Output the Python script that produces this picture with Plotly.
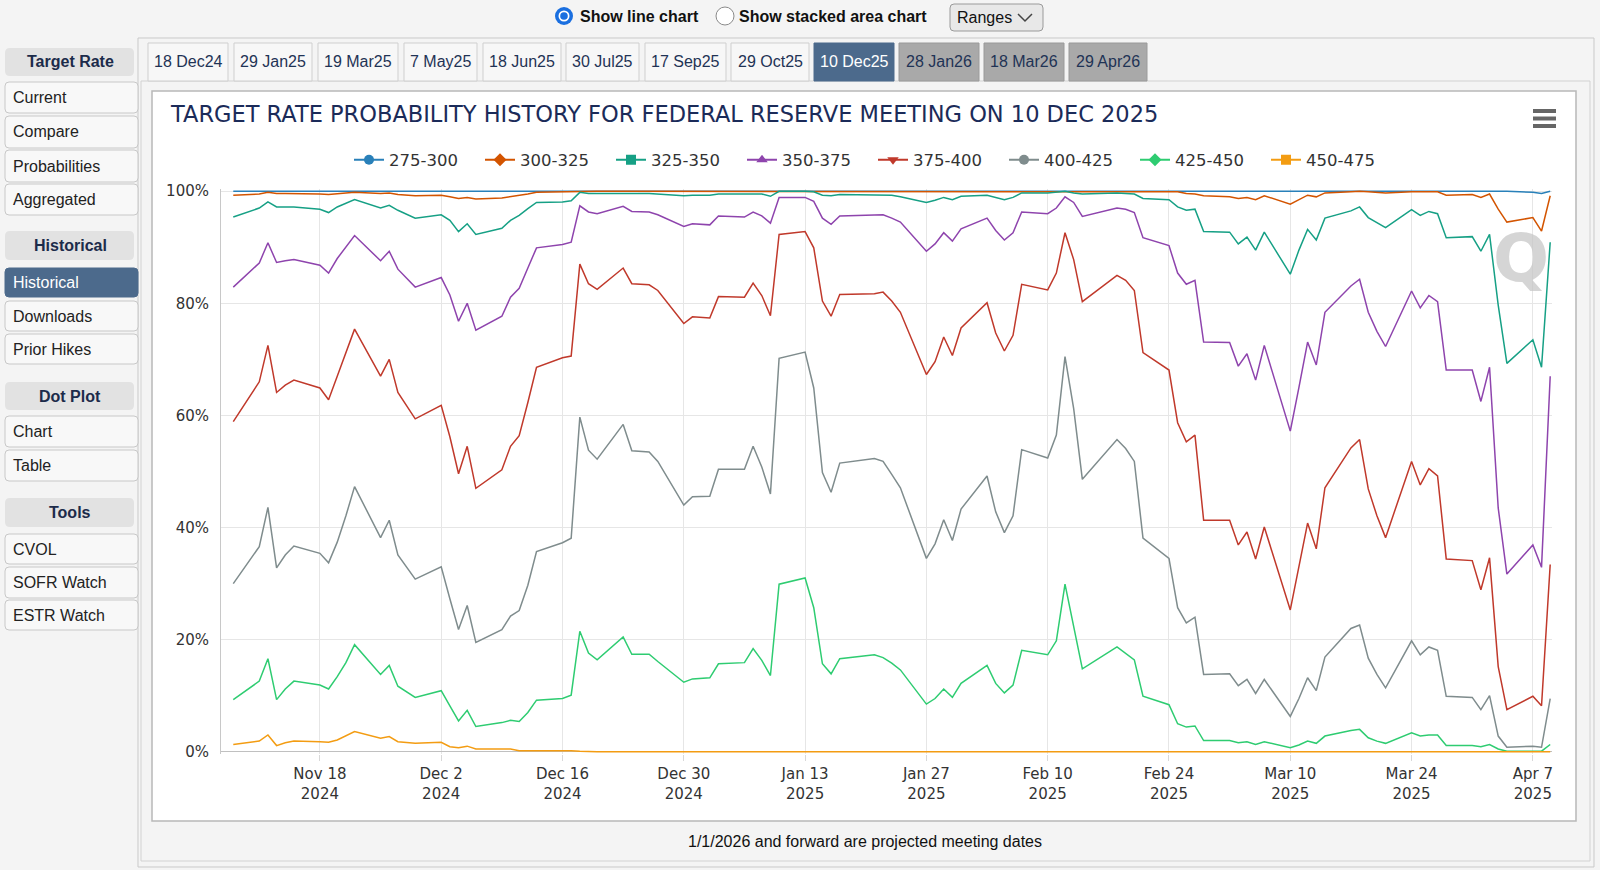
import plotly.graph_objects as go

# ---------------- DATA ----------------
dates = [
    "2024-11-08", "2024-11-11", "2024-11-12", "2024-11-13", "2024-11-14", "2024-11-15", "2024-11-18", "2024-11-19",
    "2024-11-20", "2024-11-21", "2024-11-22", "2024-11-25", "2024-11-26", "2024-11-27", "2024-11-29",
    "2024-12-02", "2024-12-03", "2024-12-04", "2024-12-05", "2024-12-06", "2024-12-09", "2024-12-10", "2024-12-11",
    "2024-12-12", "2024-12-13", "2024-12-16", "2024-12-17", "2024-12-18", "2024-12-19", "2024-12-20", "2024-12-23",
    "2024-12-24", "2024-12-26", "2024-12-27", "2024-12-30", "2024-12-31",
    "2025-01-02", "2025-01-03", "2025-01-06", "2025-01-07", "2025-01-08", "2025-01-09", "2025-01-10", "2025-01-13",
    "2025-01-14", "2025-01-15", "2025-01-16", "2025-01-17", "2025-01-21", "2025-01-22", "2025-01-23", "2025-01-24",
    "2025-01-27", "2025-01-28", "2025-01-29", "2025-01-30", "2025-01-31",
    "2025-02-03", "2025-02-04", "2025-02-05", "2025-02-06", "2025-02-07", "2025-02-10", "2025-02-11", "2025-02-12",
    "2025-02-13", "2025-02-14", "2025-02-18", "2025-02-19", "2025-02-20", "2025-02-21", "2025-02-24", "2025-02-25",
    "2025-02-26", "2025-02-27", "2025-02-28",
    "2025-03-03", "2025-03-04", "2025-03-05", "2025-03-06", "2025-03-07", "2025-03-10", "2025-03-11", "2025-03-12",
    "2025-03-13", "2025-03-14", "2025-03-17", "2025-03-18", "2025-03-19", "2025-03-20", "2025-03-21", "2025-03-24",
    "2025-03-25", "2025-03-26", "2025-03-27", "2025-03-28", "2025-03-31",
    "2025-04-01", "2025-04-02", "2025-04-03", "2025-04-04", "2025-04-07", "2025-04-08", "2025-04-09",
]

p275_300 = [
    100, 100, 100, 100, 100, 100, 100, 100, 100, 100, 100, 100, 100, 100, 100,
    100, 100, 100, 100, 100, 100, 100, 100, 100, 100, 100, 100, 100, 100, 100, 100, 100, 100, 100, 100, 100,
    100, 100, 100, 100, 100, 100, 100, 100, 100, 100, 100, 100, 100, 100, 100, 100, 100, 100, 100, 100, 100,
    100, 100, 100, 100, 100, 100, 100, 100, 100, 100, 100, 100, 100, 100, 100, 100, 100, 100, 100,
    100, 100, 100, 100, 100, 100, 100, 100, 100, 100, 100, 100, 100, 100, 100, 100, 100, 100, 100, 100, 100,
    100, 100, 100, 100, 99.8, 99.6, 100,
]
p300_325 = [
    99.3, 99.5, 99.8, 99.6, 99.6, 99.6, 99.5, 99.4, 99.6, 99.7, 99.8, 99.6, 99.7, 99.4, 99.2,
    99.3, 99.0, 98.7, 98.9, 98.6, 98.8, 99.0, 99.2, 99.5, 99.8, 99.9, 99.9, 100, 100, 100, 100, 100, 100, 100, 99.9, 99.9,
    99.9, 100, 100, 100, 100, 99.9, 100, 100, 100, 100, 99.9, 100, 100, 100, 100, 100, 99.9, 100, 100, 100, 100,
    100, 100, 100, 100, 100, 100, 100, 100, 100, 100, 100, 100, 100, 100, 100, 99.9, 99.6, 99.5, 99.2,
    99.0, 98.7, 98.9, 98.5, 99.2, 97.7, 98.5, 99.3, 99.0, 99.7, 99.9, 100, 99.9, 99.8, 99.7, 99.9, 99.9, 99.9, 99.9, 99.3, 99.4,
    98.9, 99.5, 96.8, 94.5, 95.3, 92.9, 99.2,
]
p325_350 = [
    95.4, 97.0, 98.1, 97.2, 97.2, 97.2, 96.8, 96.2, 97.2, 97.8, 98.5, 97.0, 97.5, 96.6, 95.2,
    95.8, 94.8, 92.8, 94.2, 92.3, 93.4, 94.8, 95.7, 96.9, 98.0, 98.1, 98.3, 99.8, 99.6, 99.6, 99.7, 99.6, 99.6, 99.5, 99.2, 99.3,
    99.3, 99.5, 99.5, 99.6, 99.5, 99.1, 100, 100, 99.9, 99.3, 99.2, 99.4, 99.4, 99.4, 99.3, 99.0, 98.0, 98.4, 98.9, 98.5, 99.1,
    99.3, 98.9, 98.5, 98.9, 99.7, 99.7, 99.9, 100, 99.7, 99.5, 99.7, 99.6, 99.5, 98.7, 98.5, 97.2, 96.6, 96.8, 92.8,
    92.7, 90.6, 91.8, 89.5, 92.7, 85.2, 89.5, 93.2, 91.3, 95.2, 96.5, 97.2, 95.3, 94.4, 93.5, 96.7, 95.7, 96.4, 96.0, 91.7, 91.9,
    89.3, 92.3, 79.7, 69.3, 73.5, 68.6, 90.9,
]
p350_375 = [
    82.9, 87.2, 90.8, 87.3, 87.6, 87.8, 86.8, 85.4, 88.0, 90.1, 92.1, 87.6, 89.3, 86.1, 82.9,
    84.6, 81.5, 76.8, 80.0, 75.2, 77.7, 81.1, 82.7, 86.3, 89.9, 90.5, 90.9, 97.4, 96.3, 96.0, 97.3, 96.4, 96.3, 95.8, 93.7, 94.2,
    94.0, 95.6, 95.4, 96.3, 95.6, 94.3, 98.9, 98.9, 98.2, 95.2, 94.1, 95.6, 95.7, 95.8, 95.2, 94.5, 89.3, 90.6, 92.6, 91.1, 93.3,
    95.2, 93.0, 91.3, 92.6, 96.3, 96.0, 97.0, 99.0, 98.0, 95.5, 97.0, 96.8, 96.2, 91.7, 90.3, 85.4, 83.4, 84.1, 73.1,
    73.0, 68.8, 71.0, 66.3, 72.5, 57.2, 65.0, 73.1, 69.0, 78.4, 83.1, 84.3, 78.4, 75.0, 72.3, 82.2, 79.2, 81.4, 80.3, 68.1, 68.1,
    62.5, 68.6, 43.5, 31.7, 36.9, 32.9, 67.0,
]
p375_400 = [
    58.9, 66.0, 72.5, 64.1, 65.4, 66.3, 64.9, 62.8, 67.0, 71.3, 75.4, 67.0, 70.0, 64.1, 59.4,
    61.8, 56.2, 49.6, 54.5, 47.0, 50.3, 54.5, 56.4, 62.3, 68.6, 70.3, 70.6, 87.0, 83.5, 82.5, 86.3, 83.5, 83.3, 82.3, 76.4, 77.6,
    77.4, 81.2, 81.1, 83.6, 81.4, 77.8, 92.3, 92.8, 89.9, 80.4, 77.7, 81.6, 81.7, 82.0, 80.4, 78.4, 67.3, 69.6, 74.0, 70.7, 75.6,
    80.1, 74.7, 71.5, 74.3, 83.4, 82.4, 85.4, 92.6, 87.8, 80.3, 85.0, 84.1, 82.3, 71.2, 68.1, 58.7, 55.3, 56.5, 41.3,
    41.3, 36.9, 39.2, 34.4, 40.1, 25.3, 33.0, 40.8, 36.2, 47.1, 54.2, 55.7, 46.9, 42.1, 38.2, 51.8, 47.6, 50.5, 49.2, 34.4, 34.1,
    28.9, 34.6, 15.2, 7.5, 9.9, 8.2, 33.4,
]
p400_425 = [
    30.0, 36.6, 43.6, 32.8, 35.1, 36.7, 35.4, 33.7, 37.4, 42.1, 47.3, 38.2, 41.3, 35.1, 30.8,
    33.0, 27.3, 21.8, 26.1, 19.5, 21.8, 24.2, 25.2, 29.7, 35.7, 37.3, 38.1, 59.7, 53.8, 52.2, 58.4, 53.7, 53.5, 51.8, 44.0, 45.5,
    45.6, 50.4, 50.4, 54.5, 50.8, 46.0, 70.2, 71.3, 64.9, 49.8, 46.3, 51.5, 52.3, 51.8, 49.5, 47.1, 34.5, 37.1, 41.4, 37.7, 43.3,
    49.2, 42.8, 39.1, 42.1, 53.9, 52.4, 56.5, 70.5, 61.2, 48.6, 55.7, 54.1, 51.8, 38.1, 34.5, 25.7, 23.0, 24.0, 13.8,
    13.9, 11.8, 12.9, 10.4, 12.9, 6.3, 9.5, 13.2, 10.9, 16.9, 22.0, 22.6, 16.7, 13.8, 11.4, 19.8, 17.3, 18.7, 18.1, 9.9, 9.7,
    7.5, 10.0, 2.8, 0.8, 1.0, 0.8, 9.5,
]
p425_450 = [
    9.3, 12.6, 16.6, 9.3, 11.2, 12.6, 11.9, 11.2, 13.4, 15.9, 19.1, 13.8, 15.4, 11.7, 9.7,
    10.9, 8.2, 5.5, 7.4, 4.5, 5.2, 5.6, 5.4, 7.0, 9.2, 9.5, 10.1, 21.5, 17.6, 16.4, 20.5, 17.4, 17.4, 16.1, 12.4, 13.0,
    13.2, 15.7, 15.9, 18.4, 16.3, 13.6, 29.9, 31.0, 25.7, 15.7, 13.9, 16.6, 17.3, 16.8, 15.8, 14.6, 8.5, 9.5, 11.2, 9.7, 12.2,
    15.4, 12.2, 10.5, 11.9, 18.1, 17.3, 19.8, 29.9, 22.6, 14.8, 18.7, 17.6, 16.4, 9.9, 8.4, 5.0, 4.4, 4.6, 2.0,
    2.0, 1.6, 1.8, 1.3, 1.8, 0.7, 1.2, 1.9, 1.5, 2.8, 3.8, 4.0, 2.5, 1.9, 1.5, 3.4, 2.8, 3.0, 3.0, 1.1, 1.1,
    0.9, 1.3, 0.5, 0.1, 0.1, 0.1, 1.3,
]
p450_475 = [
    1.3, 1.9, 3.0, 1.1, 1.6, 1.9, 1.8, 1.7, 2.1, 2.8, 3.6, 2.4, 2.7, 1.8, 1.5,
    1.7, 0.9, 0.7, 1.0, 0.5, 0.5, 0.5, 0.2, 0.2, 0.3, 0.3, 0.2, 0.1, 0, 0, 0, 0, 0, 0, 0, 0,
    0, 0, 0, 0, 0, 0, 0, 0, 0, 0, 0, 0, 0, 0, 0, 0, 0, 0, 0, 0, 0,
    0, 0, 0, 0, 0, 0, 0, 0, 0, 0, 0, 0, 0, 0, 0, 0, 0, 0, 0,
    0, 0, 0, 0, 0, 0, 0, 0, 0, 0, 0, 0, 0, 0, 0, 0, 0, 0, 0, 0, 0,
    0, 0, 0, 0, 0, 0, 0,
]

series_names = ["275-300", "300-325", "325-350", "350-375", "375-400", "400-425", "425-450", "450-475"]
series_values = [p275_300, p300_325, p325_350, p350_375, p375_400, p400_425, p425_450, p450_475]

x_tick_vals = ["2024-11-18", "2024-12-02", "2024-12-16", "2024-12-30", "2025-01-13", "2025-01-27",
               "2025-02-10", "2025-02-24", "2025-03-10", "2025-03-24", "2025-04-07"]
x_tick_text = ["Nov 18<br>2024", "Dec 2<br>2024", "Dec 16<br>2024", "Dec 30<br>2024", "Jan 13<br>2025",
               "Jan 27<br>2025", "Feb 10<br>2025", "Feb 24<br>2025", "Mar 10<br>2025", "Mar 24<br>2025",
               "Apr 7<br>2025"]
y_tick_vals = [0, 20, 40, 60, 80, 100]
y_tick_text = ["0%", "20%", "40%", "60%", "80%", "100%"]

title_text = "TARGET RATE PROBABILITY HISTORY FOR FEDERAL RESERVE MEETING ON 10 DEC 2025"
meeting_tabs = ["18 Dec24", "29 Jan25", "19 Mar25", "7 May25", "18 Jun25", "30 Jul25", "17 Sep25",
                "29 Oct25", "10 Dec25", "28 Jan26", "18 Mar26", "29 Apr26"]
caption_text = "1/1/2026 and forward are projected meeting dates"

# ---------------- STYLE / LAYOUT ----------------
colors = ["#2980b9", "#d35400", "#16a085", "#8e44ad", "#c0392b", "#7f8c8d", "#2ecc71", "#f39c12"]
symbols = ["circle", "diamond", "square", "triangle-up", "triangle-down", "circle", "diamond", "square"]

FW, FH = 1600, 870
ML, MR, MT, MB = 221, 48, 189, 116
PW = FW - ML - MR
PH = FH - MT - MB

def px(x):
    return (x - ML) / PW

def py(y):
    return (FH - MB - y) / PH

shapes = []
annotations = []

def rrect(x0, y0, x1, y1, fill, line=None, r=4, lw=1, layer="below"):
    X0, X1 = px(x0), px(x1)
    Yt, Yb = py(y0), py(y1)
    rx, ry = r / PW, r / PH
    path = (f"M{X0+rx},{Yt} L{X1-rx},{Yt} Q{X1},{Yt} {X1},{Yt-ry} L{X1},{Yb+ry} "
            f"Q{X1},{Yb} {X1-rx},{Yb} L{X0+rx},{Yb} Q{X0},{Yb} {X0},{Yb+ry} "
            f"L{X0},{Yt-ry} Q{X0},{Yt} {X0+rx},{Yt} Z")
    shapes.append(dict(type="path", xref="paper", yref="paper", path=path, fillcolor=fill,
                       line=dict(color=line if line else fill, width=lw if line else 0), layer=layer))

def rect(x0, y0, x1, y1, fill, line=None, lw=1, layer="below"):
    shapes.append(dict(type="rect", xref="paper", yref="paper", x0=px(x0), x1=px(x1), y0=py(y1), y1=py(y0),
                       fillcolor=fill, line=dict(color=line if line else fill, width=lw if line else 0),
                       layer=layer))

def circle(cx, cy, r, fill, line=None, lw=1):
    shapes.append(dict(type="circle", xref="paper", yref="paper", x0=px(cx - r), x1=px(cx + r),
                       y0=py(cy + r), y1=py(cy - r), fillcolor=fill,
                       line=dict(color=line if line else fill, width=lw if line else 0), layer="above"))

def text(x, y, s, size=16, color="#222", bold=False, anchor="left", family="Liberation Sans, Arial, sans-serif"):
    annotations.append(dict(x=px(x), y=py(y), xref="paper", yref="paper", text=(f"<b>{s}</b>" if bold else s),
                            showarrow=False, xanchor=anchor, yanchor="middle",
                            font=dict(size=size, color=color, family=family)))

# outer content panel
rect(138, 38, 1594, 867, "#f4f4f4", "#c9c9c9")
rect(141, 81, 1590, 861, "#f4f4f4", "#d2d2d2")
# chart box
rect(152, 91, 1576, 821, "#ffffff", "#b8b8b8", lw=1.5)

# tabs
tab_x = [(148, 228), (234, 312), (318, 398), (404, 477), (483, 561), (566, 639), (645, 726), (731, 809),
         (814, 894), (899, 979), (984, 1064), (1069, 1147)]
for i, (lab, (a, b)) in enumerate(zip(meeting_tabs, tab_x)):
    if i == 8:
        rect(a, 43, b, 81, "#4c6a8c", "#4c6a8c")
        text((a + b) / 2, 62, lab, 16, "#ffffff", anchor="center")
    elif i > 8:
        rect(a, 43, b, 81, "#a9a9a9", "#9a9a9a")
        text((a + b) / 2, 62, lab, 16, "#1f3355", anchor="center")
    else:
        rect(a, 43, b, 81, "#f7f7f7", "#cfcfcf")
        text((a + b) / 2, 62, lab, 16, "#1f3355", anchor="center")

# sidebar
headers = [("Target Rate", 48, 76), ("Historical", 231, 260), ("Dot Plot", 382, 410), ("Tools", 498, 527)]
for lab, a, b in headers:
    rrect(5, a, 134, b, "#e2e2e2", r=5)
    text(70, (a + b) / 2, lab, 16, "#1c2b4a", bold=True, anchor="center")
items = [("Current", 82, 113), ("Compare", 116, 148), ("Probabilities", 150, 182), ("Aggregated", 184, 215),
         ("Historical", 268, 297), ("Downloads", 301, 331), ("Prior Hikes", 334, 364), ("Chart", 416, 447),
         ("Table", 450, 481), ("CVOL", 534, 564), ("SOFR Watch", 567, 598), ("ESTR Watch", 600, 630)]
for lab, a, b in items:
    if lab == "Historical":
        rrect(5, a, 138, b, "#4c6a8c", "#4c6a8c", r=4)
        text(11, (a + b) / 2, lab, 16, "#ffffff")
    else:
        rrect(5, a, 138, b, "#f8f8f8", "#c8c8c8", r=4)
        text(11, (a + b) / 2, lab, 16, "#222222")

# radios & dropdown
circle(564, 16, 9, "#1a6fe0")
circle(564, 16, 5.5, "#ffffff")
circle(564, 16, 3.8, "#1a6fe0")
text(578, 16, "Show line chart", 16, "#111111", bold=True)
circle(725, 16, 9, "#ffffff", "#8a8a8a", 1)
text(737, 16, "Show stacked area chart", 16, "#111111", bold=True)
rrect(950, 4, 1043, 31, "#e8e8e8", "#9a9a9a", r=4)
text(955, 17, "Ranges", 16, "#111111")
shapes.append(dict(type="path", xref="paper", yref="paper",
                   path=f"M{px(1018)},{py(14)} L{px(1025)},{py(21)} L{px(1032)},{py(14)}",
                   line=dict(color="#444444", width=1.5), layer="above"))

# hamburger menu
for yy in (111, 118.5, 126):
    shapes.append(dict(type="line", xref="paper", yref="paper", x0=px(1533), x1=px(1556), y0=py(yy), y1=py(yy),
                       line=dict(color="#666666", width=4), layer="above"))

# title, caption, watermark
text(168, 114, title_text, 22.5, "#1b2b59", family="DejaVu Sans, sans-serif")
text(865, 842, caption_text, 16, "#111111", anchor="center")
annotations.append(dict(x=px(1521), y=py(258), xref="paper", yref="paper", text="<b>Q</b>", showarrow=False,
                        xanchor="center", yanchor="middle",
                        font=dict(size=66, color="rgba(195,195,195,0.7)", family="DejaVu Sans, sans-serif")))

fig = go.Figure()
for name, vals, col in zip(series_names, series_values, colors):
    fig.add_trace(go.Scatter(x=dates, y=vals, mode="lines", name=name, showlegend=False,
                             line=dict(color=col, width=1.5), hoverinfo="x+y+name"))
for name, col, sym in zip(series_names, colors, symbols):
    fig.add_trace(go.Scatter(x=[None], y=[None], mode="lines+markers", name=name, showlegend=True,
                             line=dict(color=col, width=2), marker=dict(symbol=sym, size=10, color=col)))

fig.update_layout(
    width=FW, height=FH,
    margin=dict(l=ML, r=MR, t=MT, b=MB, pad=0),
    paper_bgcolor="#f4f4f4",
    plot_bgcolor="rgba(0,0,0,0)",
    font=dict(family="DejaVu Sans, sans-serif", size=15, color="#333333"),
    shapes=shapes,
    annotations=annotations,
    showlegend=True,
    legend=dict(orientation="h", x=px(349), y=py(160), xanchor="left", yanchor="middle",
                font=dict(family="DejaVu Sans, sans-serif", size=16.5, color="#333333"),
                bgcolor="rgba(0,0,0,0)", entrywidth=86, entrywidthmode="pixels", itemwidth=30,
                traceorder="normal"),
    xaxis=dict(type="date", range=["2024-11-06 14:00", "2025-04-09 05:00"],
               tickvals=x_tick_vals, ticktext=x_tick_text, showgrid=True, gridcolor="#e6e6e6", gridwidth=1,
               ticks="outside", ticklen=6, tickcolor="#d8d8d8", showline=False, zeroline=False,
               tickfont=dict(family="DejaVu Sans, sans-serif", size=15, color="#333333")),
    yaxis=dict(range=[-0.4, 100.4], tickvals=y_tick_vals, ticktext=y_tick_text, showgrid=True,
               gridcolor="#e6e6e6", gridwidth=1, zeroline=True, zerolinecolor="#c0c0c0", zerolinewidth=1,
               showline=True, linecolor="#c8c8c8", linewidth=1, ticks="", ticklabelstandoff=8,
               tickfont=dict(family="DejaVu Sans, sans-serif", size=15, color="#333333")),
)

fig.write_html("out.html")
